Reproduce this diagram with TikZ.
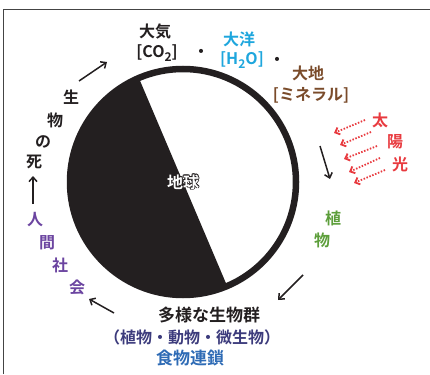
\documentclass[tikz,border=0pt]{standalone}
\usepackage{fontspec}
\setmainfont{Noto Sans CJK JP Bold}
\usetikzlibrary{arrows.meta}
\definecolor{ink}{HTML}{231F20}
\definecolor{frameg}{HTML}{444444}
\definecolor{oceanc}{HTML}{1EA6DD}
\definecolor{earthc}{HTML}{7A4B2A}
\definecolor{sunred}{HTML}{E83A3F}
\definecolor{plantg}{HTML}{5C9E3A}
\definecolor{humanp}{HTML}{6B44A0}
\definecolor{navyc}{HTML}{3C3B7C}
\definecolor{chainb}{HTML}{2E6BB5}
\begin{document}
\begin{tikzpicture}[x=1pt,y=-1pt,
  lbl/.style={font=\fontsize{16}{16}\selectfont, inner sep=0pt, text=ink},
  big/.style={font=\fontsize{17}{17}\selectfont, inner sep=0pt},
  blkarrow/.style={-{Straight Barb[length=4.5pt,width=8pt]}, line width=1.5pt, draw=ink},
  sunarrow/.style={-{Straight Barb[length=4pt,width=7.5pt]}, line width=1.8pt, dash pattern=on 1.5pt off 1.6pt, draw=sunred}]
\useasboundingbox (0,0) rectangle (430,374);
% frame
\draw[frameg, line width=1pt] (3.5,374) -- (3.5,9.5) -- (430,9.5);
% earth
\coordinate (c) at (183,182);
\fill[ink] (c) -- ++(67:113) arc[start angle=67, end angle=247, radius=113] -- cycle;
\draw[ink, line width=6.5pt] (c) circle[radius=113];
% label earth with outline
\foreach \dx/\dy in {0.9/0,-0.9/0,0/0.9,0/-0.9,0.65/0.65,-0.65/0.65,0.65/-0.65,-0.65/-0.65}
  \node[lbl, text=ink] at ([shift={(\dx,\dy)}]c) {地球};
\node[lbl, text=white] (earth) at (c) {地球};
% top labels
\node[lbl] (air1) at (155,32) {大気};
\node[lbl] (air2) at (157,53) {[CO\raisebox{-0.3em}{\fontsize{12}{12}\selectfont 2}]};
\node[lbl] (dot1) at (201,53) {・};
\node[lbl, text=oceanc] (sea1) at (239,39) {大洋};
\node[lbl, text=oceanc] (sea2) at (242,60) {[H\raisebox{-0.3em}{\fontsize{12}{12}\selectfont 2}O]};
\node[lbl] (dot2) at (277,61) {・};
\node[lbl, text=earthc] (land1) at (308,73) {大地};
\node[lbl, text=earthc] (land2) at (311,95) {[ミネラル]};
% sunlight
\node[lbl, text=sunred] (sun1) at (380,120) {太};
\node[lbl, text=sunred] (sun2) at (395,142) {陽};
\node[lbl, text=sunred] (sun3) at (400,164) {光};
\coordinate (s1a) at (365,120); \coordinate (s1b) at (334,133);
\coordinate (s2a) at (371,132); \coordinate (s2b) at (340,145);
\coordinate (s3a) at (377,146); \coordinate (s3b) at (344,159);
\coordinate (s4a) at (380,158); \coordinate (s4b) at (349,172);
\coordinate (s5a) at (385,170); \coordinate (s5b) at (354,183);
\draw[sunarrow] (s1a) -- (s1b);
\draw[sunarrow] (s2a) -- (s2b);
\draw[sunarrow] (s3a) -- (s3b);
\draw[sunarrow] (s4a) -- (s4b);
\draw[sunarrow] (s5a) -- (s5b);
% plants
\node[lbl, text=plantg] (pl1) at (333,218) {植};
\node[lbl, text=plantg] (pl2) at (322,240) {物};
% bottom
\node[big, text=ink] (bio) at (209,315) {多様な生物群};
\node[lbl, text=navyc] (bio2) at (192,337) {（植物・動物・微生物）};
\node[big, text=chainb] (chain) at (190,358) {食物連鎖};
% human
\node[lbl, text=humanp] (h1) at (35,220) {人};
\node[lbl, text=humanp] (h2) at (47,243) {間};
\node[lbl, text=humanp] (h3) at (60,265) {社};
\node[lbl, text=humanp] (h4) at (77,287) {会};
% death
\node[lbl] (d1) at (71,97) {生};
\node[lbl] (d2) at (55,120) {物};
\node[lbl] (d3) at (43,142) {の};
\node[lbl] (d4) at (34,162) {死};
% cycle arrows
\coordinate (a1s) at (79,81);   \coordinate (a1e) at (107,62);
\coordinate (a2s) at (320,146); \coordinate (a2e) at (330,179);
\coordinate (a3s) at (303,275); \coordinate (a3e) at (278,300);
\coordinate (a4s) at (114,313); \coordinate (a4e) at (89,299);
\coordinate (a5s) at (33,204);  \coordinate (a5e) at (33,176);
\draw[blkarrow] (a1s) -- (a1e);
\draw[blkarrow] (a2s) -- (a2e);
\draw[blkarrow] (a3s) -- (a3e);
\draw[blkarrow] (a4s) -- (a4e);
\draw[blkarrow] (a5s) -- (a5e);
\end{tikzpicture}
\end{document}
